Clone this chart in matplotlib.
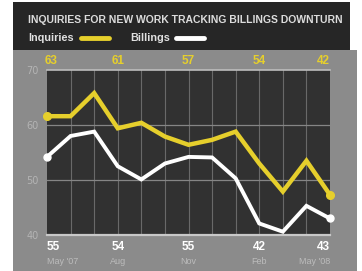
import matplotlib.pyplot as plt
from matplotlib.patches import Rectangle
import numpy as np

# monthly, May '07 .. May '08
inquiries = [61.6, 61.6, 65.8, 59.4, 60.4, 57.9, 56.4, 57.3, 58.8, 53.0, 47.9, 53.5, 47.3]
billings = [54.2, 58.0, 58.8, 52.5, 50.1, 53.0, 54.2, 54.1, 50.3, 42.1, 40.6, 45.3, 43.0]
label_pos = [0, 3, 6, 9, 12]
top_labels = ['63', '61', '57', '54', '42']
bottom_labels = ['55', '54', '55', '42', '43']
month_labels = ["May '07", 'Aug', 'Nov', 'Feb', "May '08"]
title = 'INQUIRIES FOR NEW WORK TRACKING BILLINGS DOWNTURN'

YELLOW = '#e6cf2c'
W, H = 362, 271
fig = plt.figure(figsize=(W / 100, H / 100), dpi=100)
fig.patch.set_facecolor('white')

def fx(px):
    return px / W

def fy(py):
    return 1 - py / H

# background panels
fig.patches.append(Rectangle((fx(13), 0), fx(357 - 13), fy(50), transform=fig.transFigure,
                             facecolor='#8b8b8b', edgecolor='none', zorder=-5))
fig.patches.append(Rectangle((fx(13), fy(50)), fx(350 - 13), fy(2) - fy(50), transform=fig.transFigure,
                             facecolor='#262626', edgecolor='none', zorder=-5))

fnt = ['Liberation Sans', 'DejaVu Sans']
fig.text(fx(28), fy(20), title, color='#dcdcdc', fontsize=7.5, fontweight='bold',
         family=fnt, va='center', ha='left')
fig.text(fx(28), fy(38), 'Inquiries', color='#e0e0e0', fontsize=7.8, fontweight='bold',
         family=fnt, va='center', ha='left')
fig.text(fx(130), fy(38), 'Billings', color='#e0e0e0', fontsize=7.8, fontweight='bold',
         family=fnt, va='center', ha='left')
fig.add_artist(plt.Line2D([fx(81), fx(109)], [fy(38), fy(38)], transform=fig.transFigure,
                          color=YELLOW, lw=3.5, solid_capstyle='round'))
fig.add_artist(plt.Line2D([fx(176), fx(204)], [fy(38), fy(38)], transform=fig.transFigure,
                          color='white', lw=3.5, solid_capstyle='round'))

ax = fig.add_axes([fx(47), fy(235), fx(330 - 47), fy(70) - fy(235)])
ax.set_zorder(2)
ax.set_facecolor('#313131')
x = np.arange(len(inquiries))
ax.set_xlim(0, 12)
ax.set_ylim(40, 70)
for xi in x[1:-1]:
    ax.axvline(xi, color='#696969', lw=0.8, zorder=1)
for yv in [50, 60]:
    ax.axhline(yv, color='#858585', lw=0.9, zorder=1)
for s in ax.spines.values():
    s.set_visible(False)
ax.axhline(70, color='#bdbdbd', lw=1.2, zorder=1, clip_on=False)
ax.axhline(40, color='#c8c8c8', lw=1.6, zorder=1, clip_on=False)

ax.plot(x, inquiries, color=YELLOW, lw=3.2, solid_joinstyle='miter', zorder=3,
        marker='o', markevery=[0, 12], ms=5.5, clip_on=False)
ax.plot(x, billings, color='white', lw=2.8, solid_joinstyle='miter', zorder=3,
        marker='o', markevery=[0, 12], ms=5, clip_on=False)

ax.set_xticks([])
ax.set_yticks([40, 50, 60, 70])
ax.tick_params(axis='y', length=0, pad=6, labelsize=7, labelcolor='#b4b4b4')

for i, p in enumerate(label_pos):
    ha = 'left' if i == 0 else ('right' if i == len(label_pos) - 1 else 'center')
    xx = p - 0.08 if i == 0 else p
    ax.annotate(top_labels[i], (xx, 70), xytext=(0, 6.5), textcoords='offset points',
                ha=ha, va='center', color=YELLOW, fontsize=8.5, fontweight='bold',
                family=fnt, annotation_clip=False)
    ax.annotate(bottom_labels[i], (p, 40), xytext=(0, -9), textcoords='offset points',
                ha=ha, va='center', color='white', fontsize=8.5, fontweight='bold',
                family=fnt, annotation_clip=False)
    ax.annotate(month_labels[i], (p, 40), xytext=(0, -19), textcoords='offset points',
                ha=ha, va='center', color='#bcbcbc', fontsize=6.5,
                family=fnt, annotation_clip=False)

fig.savefig('out.png', dpi=100)
